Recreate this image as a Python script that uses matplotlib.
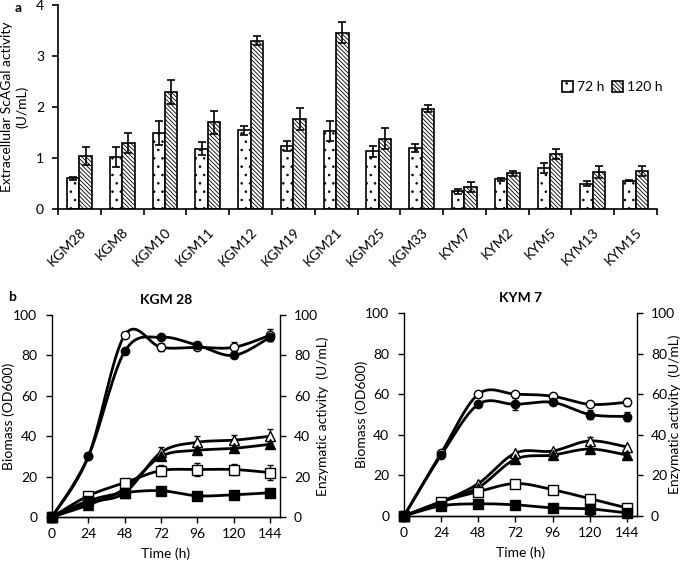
import numpy as np
import matplotlib.pyplot as plt
import matplotlib as mpl

plt.rcParams['font.family'] = ['Lato', 'DejaVu Sans']
plt.rcParams['hatch.linewidth'] = 0.6

# panel a data
strains = ["KGM28", "KGM8", "KGM10", "KGM11", "KGM12", "KGM19", "KGM21", "KGM25",
           "KGM33", "KYM7", "KYM2", "KYM5", "KYM13", "KYM15"]
act_72 = [0.60, 1.02, 1.49, 1.18, 1.54, 1.24, 1.53, 1.13, 1.20, 0.35, 0.58, 0.80, 0.50, 0.55]
err_72 = [0.03, 0.20, 0.23, 0.13, 0.08, 0.10, 0.20, 0.11, 0.08, 0.05, 0.03, 0.10, 0.05, 0.01]
act_120 = [1.04, 1.30, 2.29, 1.70, 3.30, 1.77, 3.46, 1.38, 1.97, 0.43, 0.70, 1.08, 0.72, 0.75]
err_120 = [0.18, 0.20, 0.23, 0.23, 0.09, 0.22, 0.20, 0.20, 0.06, 0.10, 0.05, 0.10, 0.12, 0.10]

# panel b data
time_h = [0, 24, 48, 72, 96, 120, 144]
kgm = {
    "open_circle":  [0, 30, 90, 84, 84, 84, 90],
    "fill_circle":  [0, 30, 82, 89, 85, 80, 89],
    "open_tri":     [0, 7, 12, 32, 37, 38, 40],
    "fill_tri":     [0, 6, 14, 30, 33, 34, 36],
    "open_sq":      [0, 10.5, 17, 23, 23.5, 23.5, 22],
    "fill_sq":      [0, 8, 12, 13, 10.5, 11, 12],
}
kgm_err = {
    "open_circle":  [0, 0, 0, 2, 0, 2.5, 3],
    "fill_circle":  [0, 0, 0, 0, 1, 1, 2],
    "open_tri":     [0, 0, 0, 2.5, 3, 2.5, 3.5],
    "fill_tri":     [0, 0, 0, 0, 0, 0, 0],
    "open_sq":      [0, 0, 0, 2.5, 3, 2.5, 3.5],
    "fill_sq":      [0, 0, 0, 0, 0, 0, 2],
}
kym = {
    "open_circle":  [0, 31, 60, 60, 59, 55, 56],
    "fill_circle":  [0, 30, 55, 55, 56, 50, 49],
    "open_tri":     [0, 7, 16, 31, 32, 37, 34],
    "fill_tri":     [0, 7, 14, 28, 30, 33, 30],
    "open_sq":      [0, 7, 12, 16, 13, 8.5, 4],
    "fill_sq":      [0, 5, 6, 5.5, 4, 3.5, 1.5],
}
kym_err = {
    "open_circle":  [0, 0, 0, 0, 0, 0, 2],
    "fill_circle":  [0, 0, 0, 3, 0, 2, 2],
    "open_tri":     [0, 0, 0, 0, 0, 2, 0],
    "fill_tri":     [0, 0, 0, 0, 0, 0, 0],
    "open_sq":      [0, 0, 0, 0, 0, 2, 0],
    "fill_sq":      [0, 0, 0, 0, 0, 3, 0],
}

styles = {
    "open_circle": ('o', 'white'),
    "fill_circle": ('o', 'black'),
    "open_tri": ('^', 'white'),
    "fill_tri": ('^', 'black'),
    "open_sq": ('s', 'white'),
    "fill_sq": ('s', 'black'),
}


def smooth(x, y, n=30):
    # Excel style smoothed line (Catmull-Rom bezier)
    x = np.asarray(x, float)
    y = np.asarray(y, float)
    xs, ys = [], []
    for i in range(len(x) - 1):
        p0 = (x[max(i - 1, 0)], y[max(i - 1, 0)])
        p1 = (x[i], y[i])
        p2 = (x[i + 1], y[i + 1])
        p3 = (x[min(i + 2, len(x) - 1)], y[min(i + 2, len(x) - 1)])
        c1 = (p1[0] + (p2[0] - p0[0]) / 6, p1[1] + (p2[1] - p0[1]) / 6)
        c2 = (p2[0] - (p3[0] - p1[0]) / 6, p2[1] - (p3[1] - p1[1]) / 6)
        t = np.linspace(0, 1, n)
        for k in range(2):
            pts = [p1[k], c1[k], c2[k], p2[k]]
            v = ((1 - t) ** 3 * pts[0] + 3 * (1 - t) ** 2 * t * pts[1]
                 + 3 * (1 - t) * t ** 2 * pts[2] + t ** 3 * pts[3])
            (xs if k == 0 else ys).append(v)
    return np.concatenate(xs), np.concatenate(ys)


fig = plt.figure(figsize=(6.85, 5.66), dpi=100)

# ---- panel a ----
ax = fig.add_axes([58 / 685, 1 - 209 / 566, 599 / 685, 204 / 566])
idx = np.arange(len(strains))
w = 0.29
ax.bar(idx - w / 2, act_72, w, color='white', edgecolor='black', linewidth=1.2,
       hatch='..', label='72 h')
ax.bar(idx + w / 2, act_120, w, color='white', edgecolor='black', linewidth=1.2,
       hatch='\\\\\\\\\\\\\\\\', label='120 h')
ax.errorbar(idx - w / 2, act_72, yerr=err_72, fmt='none', ecolor='black', elinewidth=1.2, capsize=3, capthick=1.2)
ax.errorbar(idx + w / 2, act_120, yerr=err_120, fmt='none', ecolor='black', elinewidth=1.2, capsize=3, capthick=1.2)
ax.set_xlim(-0.5, len(strains) - 0.5)
ax.set_ylim(0, 4)
ax.set_yticks([0, 1, 2, 3, 4])
ax.set_xticks(idx)
ax.set_xticklabels(strains, rotation=45, ha='right', rotation_mode='anchor', fontsize=10)
ax.set_xticks(np.arange(len(strains) + 1) - 0.5, minor=True)
ax.tick_params(axis='x', which='major', length=0, pad=12)
ax.tick_params(axis='x', which='minor', length=4, width=1.2, direction='out')
ax.tick_params(axis='y', length=4, width=1.2, labelsize=10, pad=6)
for s in ['top', 'right']:
    ax.spines[s].set_visible(False)
for s in ['left', 'bottom']:
    ax.spines[s].set_linewidth(1.2)
ax.set_ylabel('Extracellular ScAGal activity\n(U/mL)', fontsize=10)
ax.yaxis.set_label_coords(-0.05, 0.5)
ax.legend(loc='upper left', bbox_to_anchor=(0.83, 0.66), ncol=2, frameon=False, fontsize=10,
          handlelength=0.8, handleheight=0.8, handletextpad=0.3, columnspacing=0.5, borderpad=0)
fig.text(15 / 685, 1 - 8 / 566, 'a', fontsize=10, fontweight='bold', va='center')


# ---- panel b ----
def growth_panel(rect, data, errs, title, lx, rx):
    axl = fig.add_axes(rect)
    for key in ["open_circle", "fill_circle", "open_tri", "fill_tri", "open_sq", "fill_sq"]:
        y = data[key]
        sx, sy = smooth(time_h, y)
        axl.plot(sx, sy, color='black', linewidth=2, zorder=2)
        e = np.array(errs[key], float)
        m = e > 0
        axl.errorbar(np.array(time_h)[m], np.array(y)[m], yerr=e[m], fmt='none', ecolor='black',
                     elinewidth=1, capsize=2.5, capthick=1, zorder=2)
        mk, fc = styles[key]
        axl.plot(time_h, y, linestyle='none', marker=mk, markersize=6.5 if mk != 'o' else 6,
                 markerfacecolor=fc, markeredgecolor='black', markeredgewidth=1, zorder=3, clip_on=False)
    axl.set_xlim(0, 150.5)
    axl.set_ylim(0, 100)
    axl.set_xticks(time_h)
    axl.set_yticks([0, 20, 40, 60, 80, 100])
    axl.tick_params(axis='x', labelsize=10, length=4, width=1, pad=4)
    axl.tick_params(axis='y', labelsize=10, length=4, width=1, pad=6.5)
    axl.spines['top'].set_visible(False)
    axl.spines['right'].set_visible(False)
    axl.set_xlabel('Time (h)', fontsize=10, labelpad=5)
    axl.set_ylabel('Biomass (OD600)', fontsize=10)
    axl.yaxis.set_label_coords(lx, 0.5)
    axl.set_title(title, fontsize=10, fontweight='bold', pad=8)
    axr = axl.twinx()
    axr.set_ylim(0, 100)
    axr.set_yticks([0, 20, 40, 60, 80, 100])
    axr.tick_params(labelsize=10, length=4, width=1, pad=6)
    axr.spines['top'].set_visible(False)
    axr.spines['left'].set_visible(False)
    axr.set_ylabel('Enzymatic activity  (U/mL)', fontsize=10)
    axr.yaxis.set_label_coords(rx, 0.5)
    for a in (axl, axr):
        for s in a.spines.values():
            s.set_linewidth(1)
    return axl


growth_panel([52 / 685, 1 - 517 / 566, 228 / 685, 202 / 566], kgm, kgm_err, 'KGM 28', -0.162, 1.158)
growth_panel([404 / 685, 1 - 516 / 566, 233 / 685, 203 / 566], kym, kym_err, 'KYM 7', -0.155, 1.133)
fig.text(8 / 685, 1 - 297 / 566, 'b', fontsize=10, fontweight='bold', va='center')

fig.savefig('out.png', dpi=100)
